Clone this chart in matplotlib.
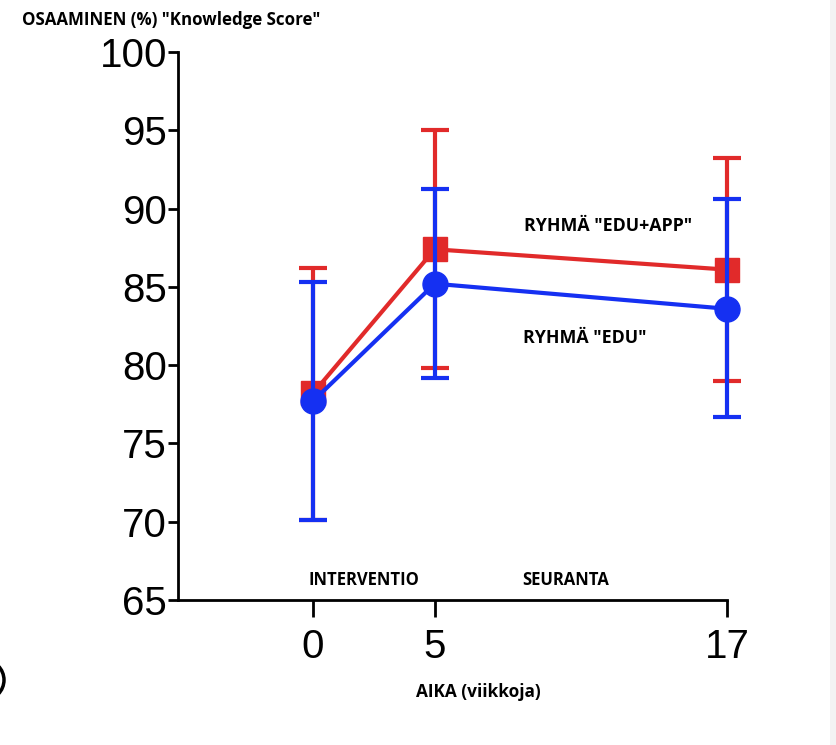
import matplotlib
matplotlib.use("Agg")
import matplotlib.pyplot as plt
from matplotlib.patches import Ellipse, Rectangle
from matplotlib import font_manager

names = {f.name for f in font_manager.fontManager.ttflist}
num_font = ['Liberation Sans Narrow', 'Liberation Sans'] if 'Liberation Sans Narrow' in names else ['Liberation Sans']
txt_font = ['Open Sans', 'DejaVu Sans']

weeks = [0, 5, 17]

# RYHMÄ "EDU+APP" (red squares)
app_mean = [78.2, 87.4, 86.1]
app_low = [70.1, 79.8, 79.0]
app_high = [86.2, 95.05, 93.25]

# RYHMÄ "EDU" (blue circles)
edu_mean = [77.7, 85.2, 83.6]
edu_low = [70.1, 79.2, 76.7]
edu_high = [85.3, 91.25, 90.6]

x_ticks = [0, 5, 17]
y_ticks = [65, 70, 75, 80, 85, 90, 95, 100]

red = '#e12a2a'
blue = '#1530f2'

fig = plt.figure(figsize=(8.37, 7.45), dpi=100, facecolor='white')
ax = fig.add_axes([178/837, 1 - 600/745, (727 - 178)/837, 548/745])

app_err = [[m - lo for m, lo in zip(app_mean, app_low)], [hi - m for m, hi in zip(app_mean, app_high)]]
edu_err = [[m - lo for m, lo in zip(edu_mean, edu_low)], [hi - m for m, hi in zip(edu_mean, edu_high)]]

ax.errorbar(weeks, app_mean, yerr=app_err, color=red, marker='s', markersize=17,
            linewidth=3, elinewidth=3, capsize=10, capthick=3, clip_on=False, zorder=3)
ax.errorbar(weeks, edu_mean, yerr=edu_err, color=blue, marker='o', markersize=18,
            linewidth=3, elinewidth=3, capsize=10, capthick=3, clip_on=False, zorder=4)

ax.set_xlim(-5.54, 17)
ax.set_ylim(65, 100)
ax.set_xticks(x_ticks)
ax.set_yticks(y_ticks)

for s in ['top', 'right']:
    ax.spines[s].set_visible(False)
for s in ['left', 'bottom']:
    ax.spines[s].set_linewidth(2)
ax.tick_params(axis='y', length=7, width=2, pad=1, labelsize=29)
ax.tick_params(axis='x', length=12, width=2, pad=8, labelsize=29)
for lab in ax.get_xticklabels() + ax.get_yticklabels():
    lab.set_family(num_font)

fig.text(22/837, 1 - 20/745, 'OSAAMINEN (%) "Knowledge Score"', family=txt_font,
         fontsize=12.2, fontweight='bold', va='center', ha='left')
fig.text(608/837, 1 - 226/745, 'RYHMÄ "EDU+APP"', family=txt_font,
         fontsize=12.8, fontweight='bold', va='center', ha='center')
fig.text(585/837, 1 - 338/745, 'RYHMÄ "EDU"', family=txt_font,
         fontsize=12.8, fontweight='bold', va='center', ha='center')
fig.text(364/837, 1 - 580/745, 'INTERVENTIO', family=txt_font,
         fontsize=12, fontweight='bold', va='center', ha='center')
fig.text(566/837, 1 - 580/745, 'SEURANTA', family=txt_font,
         fontsize=12, fontweight='bold', va='center', ha='center')
fig.text(478/837, 1 - 692/745, 'AIKA (viikkoja)', family=txt_font,
         fontsize=12.4, fontweight='bold', va='center', ha='center')

# cropped circle at the lower left edge and grey strip at the right edge
fig.patches.append(Ellipse((-16/837, 1 - 680/745), 40/837, 40/745, transform=fig.transFigure,
                           fill=False, edgecolor='black', linewidth=2.5))
fig.patches.append(Rectangle((830/837, 0), 7/837, 1, transform=fig.transFigure,
                             facecolor='#f3f3f3', edgecolor='none'))

fig.savefig('out.png', dpi=100, facecolor='white')
